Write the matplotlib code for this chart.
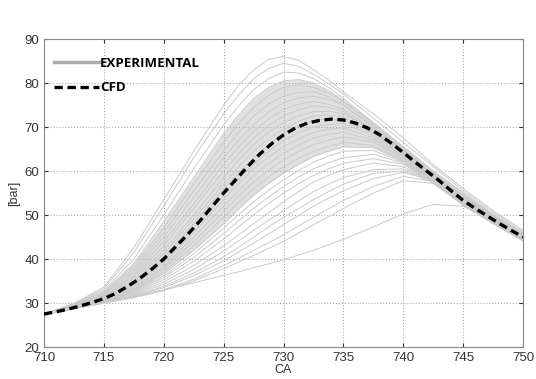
import numpy as np
import matplotlib.pyplot as plt

# crank angle grid for the measured cycles
ca = [710, 712.5, 715, 717.5, 720, 722.5, 725, 726.25, 727.5, 728.75, 730,
      731.25, 732.5, 733.75, 735, 737.5, 740, 742.5, 745, 747.5, 750]

# experimental cycles, fastest to slowest burn [bar]
exp_cycles = [
    [27.5, 29.9, 33.6, 42.5, 53.5, 64.5, 75.0, 79.5, 83.0, 85.4, 86.0, 85.2, 83.0, 80.7, 78.0, 73.0, 67.5, 61.5, 56.0, 51.0, 46.5],
    [27.5, 29.8, 33.2, 41.5, 52.0, 63.0, 73.0, 77.3, 81.0, 83.3, 84.5, 83.8, 82.0, 79.9, 77.5, 72.0, 66.5, 61.0, 55.5, 50.6, 46.2],
    [27.5, 29.7, 32.8, 40.0, 50.0, 60.5, 70.5, 74.8, 78.5, 81.0, 82.5, 82.3, 81.0, 79.0, 76.5, 71.0, 65.5, 60.0, 55.0, 50.2, 45.9],
    [27.5, 29.6, 32.5, 39.0, 48.5, 58.5, 68.5, 72.8, 76.5, 79.0, 80.5, 80.8, 80.0, 78.3, 76.0, 71.0, 65.5, 60.0, 55.0, 50.0, 45.8],
    [27.5, 29.6, 32.3, 38.5, 47.0, 57.0, 66.5, 70.8, 74.5, 77.2, 79.0, 79.6, 79.0, 77.8, 75.8, 70.5, 65.0, 59.5, 54.5, 49.8, 45.5],
    [27.5, 29.5, 32.0, 37.8, 46.0, 55.5, 64.5, 68.8, 72.5, 75.2, 77.0, 77.9, 78.0, 76.9, 75.0, 70.0, 64.8, 59.5, 54.3, 49.6, 45.5],
    [27.5, 29.5, 31.8, 37.2, 45.0, 54.0, 63.0, 67.0, 70.5, 73.4, 75.5, 76.6, 77.0, 76.3, 75.0, 70.0, 64.5, 59.3, 54.2, 49.5, 45.3],
    [27.5, 29.4, 31.6, 36.5, 44.0, 52.5, 61.5, 65.5, 69.0, 71.8, 74.0, 75.2, 75.8, 75.2, 74.0, 69.5, 64.5, 59.0, 54.0, 49.3, 45.1],
    [27.5, 29.4, 31.5, 36.0, 43.0, 51.5, 60.0, 63.9, 67.5, 70.3, 72.5, 73.9, 74.8, 74.5, 73.5, 69.0, 64.3, 59.0, 54.0, 49.3, 45.1],
    [27.5, 29.3, 31.3, 35.5, 42.0, 50.0, 58.5, 62.4, 66.0, 68.8, 71.0, 72.5, 73.5, 73.6, 73.0, 69.0, 64.0, 58.8, 53.8, 49.2, 45.0],
    [27.5, 29.3, 31.2, 35.0, 41.2, 49.0, 57.0, 60.9, 64.5, 67.3, 69.5, 71.3, 72.5, 72.7, 72.3, 68.5, 64.0, 58.7, 53.7, 49.0, 45.0],
    [27.5, 29.2, 31.0, 34.5, 40.5, 48.0, 56.0, 59.6, 63.0, 66.0, 68.5, 70.2, 71.5, 71.8, 71.5, 68.5, 63.8, 58.5, 53.5, 49.0, 44.9],
    [27.5, 29.2, 30.9, 34.2, 39.8, 47.0, 54.5, 58.1, 61.5, 64.4, 67.0, 68.7, 70.0, 70.6, 70.8, 68.0, 63.5, 58.3, 53.3, 48.8, 44.8],
    [27.5, 29.1, 30.8, 34.0, 39.0, 46.0, 53.5, 57.1, 60.5, 63.2, 65.5, 67.3, 68.8, 69.5, 69.8, 67.5, 63.3, 58.2, 53.2, 48.7, 44.7],
    [27.5, 29.1, 30.7, 33.6, 38.3, 45.0, 52.0, 55.6, 59.0, 61.7, 64.0, 65.9, 67.5, 68.3, 68.8, 67.0, 63.0, 58.0, 53.0, 48.6, 44.6],
    [27.5, 29.0, 30.6, 33.3, 37.8, 44.0, 50.8, 54.3, 57.5, 60.2, 62.5, 64.4, 66.0, 67.0, 67.8, 66.5, 62.8, 57.8, 52.8, 48.5, 44.5],
    [27.5, 29.0, 30.5, 33.0, 37.2, 43.0, 49.5, 52.9, 56.0, 58.7, 61.0, 62.9, 64.5, 65.6, 66.5, 65.8, 62.5, 57.7, 52.7, 48.4, 44.4],
    [27.5, 29.0, 30.5, 32.8, 36.7, 42.0, 48.0, 51.4, 54.5, 57.2, 59.5, 61.5, 63.3, 64.5, 65.5, 65.3, 62.2, 57.5, 52.5, 48.3, 44.3],
    [27.5, 28.9, 30.4, 32.6, 36.2, 41.2, 47.0, 50.1, 53.0, 55.6, 58.0, 60.1, 62.0, 63.4, 64.5, 64.7, 62.0, 57.3, 52.3, 48.1, 44.2],
    [27.5, 28.9, 30.4, 32.4, 35.8, 40.3, 45.8, 48.7, 51.5, 54.1, 56.5, 58.6, 60.5, 61.9, 63.0, 63.8, 61.8, 57.2, 52.2, 48.0, 44.1],
    [27.5, 28.9, 30.3, 32.2, 35.3, 39.5, 44.5, 47.3, 50.0, 52.6, 55.0, 57.1, 59.0, 60.5, 61.8, 62.8, 61.5, 57.5, 52.5, 48.2, 44.2],
    [27.5, 28.8, 30.3, 32.0, 34.8, 38.5, 43.0, 45.5, 48.0, 50.5, 53.0, 55.3, 57.5, 59.0, 60.3, 61.8, 61.0, 57.5, 52.8, 48.3, 44.3],
    [27.5, 28.8, 30.2, 31.8, 34.3, 37.6, 41.8, 44.1, 46.5, 48.8, 51.0, 53.2, 55.3, 57.0, 58.5, 60.3, 60.5, 57.5, 53.0, 48.5, 44.3],
    [27.5, 28.8, 30.1, 31.6, 33.8, 36.8, 40.5, 42.7, 45.0, 47.3, 49.5, 51.5, 53.5, 55.3, 57.0, 59.5, 60.0, 57.5, 53.2, 48.6, 44.4],
    [27.5, 28.7, 30.1, 31.5, 33.5, 36.2, 39.6, 41.6, 43.6, 45.7, 47.8, 49.9, 52.0, 53.8, 55.5, 58.3, 59.7, 57.8, 53.5, 48.8, 44.5],
    [27.5, 28.7, 30.0, 31.3, 33.0, 35.4, 38.5, 40.2, 42.0, 43.7, 45.5, 47.5, 49.5, 51.4, 53.3, 56.5, 58.8, 57.6, 53.5, 48.8, 44.5],
    [27.5, 28.7, 30.0, 31.2, 32.8, 35.0, 37.8, 39.3, 40.8, 42.4, 44.0, 45.9, 47.8, 49.6, 51.5, 55.0, 57.8, 57.2, 53.3, 48.7, 44.5],
    [27.5, 28.7, 30.0, 31.5, 33.0, 34.6, 36.3, 37.1, 38.0, 38.9, 39.8, 40.9, 42.0, 43.2, 44.5, 47.3, 50.3, 52.4, 52.0, 48.3, 44.2],
]

# CFD prediction, one value per degree from 710 to 750 [bar]
ca_cfd = list(range(710, 751))
cfd = [27.5, 28.0, 28.6, 29.3, 30.1, 31.0, 32.2, 33.8, 35.6, 37.7,
       40.0, 42.8, 45.6, 48.6, 51.8, 55.0, 58.0, 61.0, 63.8, 66.2,
       68.2, 69.8, 70.9, 71.5, 71.8, 71.6, 70.9, 69.8, 68.3, 66.3,
       64.2, 62.0, 59.9, 57.8, 55.5, 53.3, 51.5, 49.8, 48.1, 46.5,
       45.0]

plt.rcParams['font.family'] = ['Liberation Sans', 'DejaVu Sans']

fig = plt.figure(figsize=(5.36, 3.79), dpi=100)
ax = fig.add_axes([0.082, 0.0844, 0.894, 0.8126])

exp_arr = np.array(exp_cycles)
core = exp_arr[3:18]
ax.fill_between(ca, core.min(axis=0), core.max(axis=0),
                color='#e0e0e0', lw=0, zorder=1)
for cyc in exp_cycles:
    ax.plot(ca, cyc, color='#cacaca', lw=0.7, zorder=2)
ax.plot([], [], color='#aaaaaa', lw=2.5, label='EXPERIMENTAL')
ax.plot(ca_cfd, cfd, color='black', lw=2.4, ls=(0, (2.5, 1.4)), zorder=3, label='CFD')

ax.set_xlim(710, 750)
ax.set_ylim(20, 90)
ax.set_xticks(range(710, 751, 5))
ax.set_yticks(range(20, 91, 10))
ax.grid(True, ls=':', color='#aaaaaa', lw=0.8)
ax.tick_params(direction='in', top=True, right=True, labelsize=9.5,
               colors='#333333', length=3)
for s in ax.spines.values():
    s.set_color('#888888')
ax.set_xlabel('CA', fontsize=9, color='#333333', labelpad=0)
ax.set_ylabel('[bar]', fontsize=9, color='#333333', labelpad=3)

leg = ax.legend(loc='upper left', bbox_to_anchor=(-0.004, 0.98), frameon=False,
                handlelength=3.4, handletextpad=0.1, labelspacing=0.85,
                prop={'family': 'Open Sans', 'weight': 'bold', 'size': 9.5})

fig.savefig('out.png', dpi=100)
